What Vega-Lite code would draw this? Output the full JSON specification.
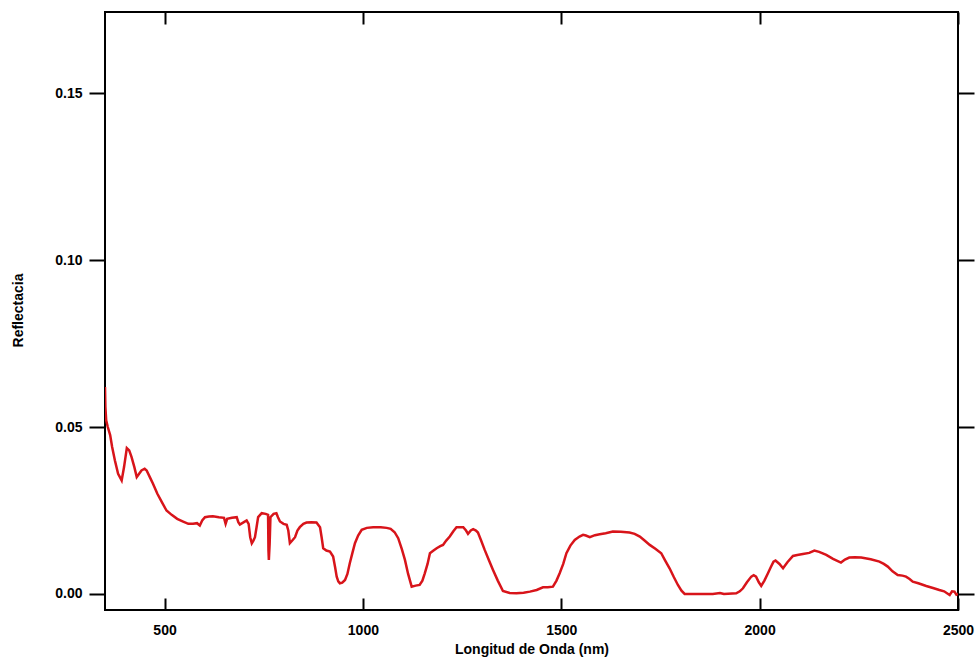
{
  "$schema": "https://vega.github.io/schema/vega-lite/v6.json",
  "width": 853,
  "height": 598,
  "autosize": "none",
  "padding": {"left": 105, "top": 12, "right": 22, "bottom": 50},
  "background": "white",
  "config": {
    "view": {"stroke": "black", "strokeWidth": 2},
    "axis": {"grid": false, "domain": false, "tickColor": "black", "tickWidth": 2,
      "labelFont": "Liberation Sans", "labelFontWeight": "bold", "labelFontSize": 14, "labelColor": "black",
      "titleFont": "Liberation Sans", "titleFontWeight": "bold", "titleFontSize": 14, "titleColor": "black"}
  },
  "data": {"values": [
    {"nm":350,"r":0.062},{"nm":351,"r":0.056},{"nm":353,"r":0.052},{"nm":357,"r":0.050},{"nm":363,"r":0.0476},
    {"nm":368,"r":0.044},{"nm":375,"r":0.040},{"nm":383,"r":0.036},{"nm":392,"r":0.034},{"nm":398,"r":0.038},
    {"nm":405,"r":0.0437},{"nm":411,"r":0.043},{"nm":417,"r":0.041},{"nm":424,"r":0.038},{"nm":430,"r":0.035},
    {"nm":436,"r":0.036},{"nm":442,"r":0.037},{"nm":450,"r":0.0375},{"nm":455,"r":0.037},{"nm":463,"r":0.035},
    {"nm":471,"r":0.033},{"nm":482,"r":0.030},{"nm":493,"r":0.0276},{"nm":505,"r":0.025},{"nm":518,"r":0.0237},
    {"nm":532,"r":0.0225},{"nm":547,"r":0.0217},{"nm":560,"r":0.021},{"nm":572,"r":0.021},{"nm":582,"r":0.0212},
    {"nm":589,"r":0.0205},{"nm":595,"r":0.022},{"nm":602,"r":0.023},{"nm":612,"r":0.0232},{"nm":622,"r":0.0233},
    {"nm":637,"r":0.023},{"nm":650,"r":0.0228},{"nm":654,"r":0.021},{"nm":658,"r":0.0225},{"nm":670,"r":0.0228},
    {"nm":682,"r":0.023},{"nm":686,"r":0.0215},{"nm":690,"r":0.0208},{"nm":700,"r":0.0215},{"nm":707,"r":0.022},
    {"nm":712,"r":0.021},{"nm":716,"r":0.017},{"nm":720,"r":0.0152},{"nm":724,"r":0.016},{"nm":728,"r":0.017},
    {"nm":732,"r":0.020},{"nm":736,"r":0.023},{"nm":745,"r":0.0242},{"nm":755,"r":0.024},{"nm":761,"r":0.0237},
    {"nm":762,"r":0.013},{"nm":763,"r":0.0102},{"nm":765,"r":0.015},{"nm":767,"r":0.023},{"nm":775,"r":0.024},
    {"nm":782,"r":0.0242},{"nm":786,"r":0.023},{"nm":791,"r":0.0217},{"nm":800,"r":0.021},{"nm":808,"r":0.0207},
    {"nm":812,"r":0.019},{"nm":816,"r":0.0152},{"nm":822,"r":0.016},{"nm":829,"r":0.017},{"nm":835,"r":0.019},
    {"nm":841,"r":0.020},{"nm":850,"r":0.021},{"nm":858,"r":0.0214},{"nm":870,"r":0.0215},{"nm":883,"r":0.0214},
    {"nm":892,"r":0.020},{"nm":896,"r":0.017},{"nm":900,"r":0.0137},{"nm":908,"r":0.013},{"nm":917,"r":0.0127},
    {"nm":925,"r":0.0112},{"nm":930,"r":0.008},{"nm":934,"r":0.0052},{"nm":938,"r":0.0038},{"nm":942,"r":0.0032},
    {"nm":948,"r":0.0034},{"nm":955,"r":0.0042},{"nm":961,"r":0.006},{"nm":967,"r":0.0092},{"nm":973,"r":0.012},
    {"nm":980,"r":0.0152},{"nm":988,"r":0.0175},{"nm":997,"r":0.0192},{"nm":1010,"r":0.0198},{"nm":1026,"r":0.020},
    {"nm":1045,"r":0.020},{"nm":1060,"r":0.0198},{"nm":1070,"r":0.0195},{"nm":1080,"r":0.0185},{"nm":1089,"r":0.0167},
    {"nm":1098,"r":0.0135},{"nm":1106,"r":0.0102},{"nm":1114,"r":0.006},{"nm":1123,"r":0.0022},{"nm":1133,"r":0.0025},
    {"nm":1143,"r":0.0027},{"nm":1150,"r":0.004},{"nm":1156,"r":0.0062},{"nm":1163,"r":0.009},{"nm":1169,"r":0.0122},
    {"nm":1178,"r":0.013},{"nm":1186,"r":0.0137},{"nm":1195,"r":0.0143},{"nm":1202,"r":0.0147},{"nm":1210,"r":0.016},
    {"nm":1219,"r":0.0172},{"nm":1228,"r":0.0188},{"nm":1236,"r":0.020},{"nm":1245,"r":0.020},{"nm":1253,"r":0.020},
    {"nm":1260,"r":0.019},{"nm":1265,"r":0.018},{"nm":1272,"r":0.019},{"nm":1278,"r":0.0194},{"nm":1285,"r":0.019},
    {"nm":1290,"r":0.0184},{"nm":1298,"r":0.016},{"nm":1307,"r":0.0132},{"nm":1318,"r":0.010},{"nm":1328,"r":0.0072},
    {"nm":1340,"r":0.004},{"nm":1353,"r":0.0009},{"nm":1370,"r":0.0003},{"nm":1387,"r":0.0002},{"nm":1405,"r":0.0004},
    {"nm":1421,"r":0.0007},{"nm":1438,"r":0.0012},{"nm":1454,"r":0.002},{"nm":1466,"r":0.002},{"nm":1479,"r":0.0022},
    {"nm":1488,"r":0.004},{"nm":1496,"r":0.0062},{"nm":1505,"r":0.009},{"nm":1513,"r":0.0122},{"nm":1523,"r":0.0145},
    {"nm":1534,"r":0.0162},{"nm":1546,"r":0.0172},{"nm":1555,"r":0.0177},{"nm":1562,"r":0.0175},{"nm":1572,"r":0.017},
    {"nm":1585,"r":0.0176},{"nm":1597,"r":0.0179},{"nm":1612,"r":0.0182},{"nm":1630,"r":0.0187},{"nm":1650,"r":0.0186},
    {"nm":1672,"r":0.0184},{"nm":1685,"r":0.018},{"nm":1698,"r":0.0172},{"nm":1710,"r":0.016},{"nm":1723,"r":0.0147},
    {"nm":1738,"r":0.0135},{"nm":1752,"r":0.0122},{"nm":1762,"r":0.010},{"nm":1773,"r":0.0077},{"nm":1784,"r":0.005},
    {"nm":1794,"r":0.0027},{"nm":1803,"r":0.001},{"nm":1811,"r":0.0},{"nm":1850,"r":0.0},{"nm":1882,"r":0.0},
    {"nm":1900,"r":0.0003},{"nm":1910,"r":0.0},{"nm":1941,"r":0.0002},{"nm":1950,"r":0.0008},{"nm":1958,"r":0.0017},
    {"nm":1968,"r":0.0035},{"nm":1979,"r":0.0052},{"nm":1985,"r":0.0056},{"nm":1991,"r":0.0052},{"nm":1998,"r":0.0035},
    {"nm":2004,"r":0.0024},{"nm":2012,"r":0.004},{"nm":2021,"r":0.0062},{"nm":2028,"r":0.008},{"nm":2035,"r":0.0097},
    {"nm":2040,"r":0.010},{"nm":2050,"r":0.009},{"nm":2059,"r":0.0077},{"nm":2070,"r":0.0095},{"nm":2084,"r":0.0114},
    {"nm":2095,"r":0.0117},{"nm":2109,"r":0.012},{"nm":2125,"r":0.0123},{"nm":2138,"r":0.013},{"nm":2150,"r":0.0126},
    {"nm":2168,"r":0.0117},{"nm":2185,"r":0.0105},{"nm":2205,"r":0.0094},{"nm":2215,"r":0.0103},{"nm":2226,"r":0.0109},
    {"nm":2240,"r":0.011},{"nm":2256,"r":0.0109},{"nm":2280,"r":0.0104},{"nm":2302,"r":0.0097},{"nm":2313,"r":0.009},
    {"nm":2323,"r":0.0082},{"nm":2335,"r":0.0068},{"nm":2348,"r":0.0057},{"nm":2360,"r":0.0055},{"nm":2369,"r":0.0052},
    {"nm":2378,"r":0.0045},{"nm":2386,"r":0.0037},{"nm":2400,"r":0.0032},{"nm":2420,"r":0.0024},{"nm":2437,"r":0.0018},
    {"nm":2453,"r":0.0012},{"nm":2465,"r":0.0008},{"nm":2479,"r":-0.0003},{"nm":2485,"r":0.0008},{"nm":2491,"r":0.0007},
    {"nm":2496,"r":-0.0002},{"nm":2500,"r":0.0}
  ]},
  "resolve": {"axis": {"x": "independent", "y": "independent"}},
  "layer": [
    {
      "mark": {"type": "line", "color": "#d8141a", "strokeWidth": 2.5, "clip": true},
      "encoding": {
        "x": {"field": "nm", "type": "quantitative",
          "scale": {"domain": [350, 2500], "nice": false, "zero": false},
          "axis": {"orient": "bottom", "title": "Longitud de Onda (nm)", "values": [500, 1000, 1500, 2000, 2500],
            "format": "d", "offset": -12, "tickSize": 12, "labelPadding": 13, "titlePadding": 5, "labelFlush": false}},
        "y": {"field": "r", "type": "quantitative",
          "scale": {"domain": [-0.0048, 0.1743], "nice": false, "zero": false},
          "axis": {"orient": "left", "title": "Reflectacia", "values": [0, 0.05, 0.1, 0.15], "format": ".2f",
            "tickSize": 16, "labelPadding": 7, "titleX": -87, "titleY": 298, "titleAngle": -90,
            "titleAlign": "center", "titleBaseline": "middle", "labelFlush": false}}
      }
    },
    {
      "mark": {"type": "line", "opacity": 0},
      "encoding": {
        "x": {"field": "nm", "type": "quantitative",
          "axis": {"orient": "top", "title": null, "labels": false, "values": [500, 1000, 1500, 2000, 2500], "offset": -12, "tickSize": 12}},
        "y": {"field": "r", "type": "quantitative",
          "axis": {"orient": "right", "title": null, "labels": false, "values": [0, 0.05, 0.1, 0.15], "tickSize": 16}}
      }
    }
  ]
}
